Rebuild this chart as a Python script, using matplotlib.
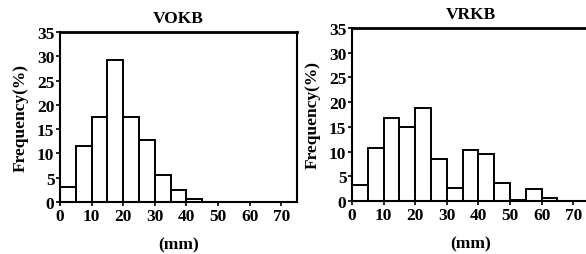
import numpy as np
import matplotlib.pyplot as plt

# bin left edges (mm), width 5
bin_edges = [0, 5, 10, 15, 20, 25, 30, 35, 40, 45, 50, 55, 60, 65, 70]
vokb_freq = [3.0, 11.5, 17.6, 29.3, 17.5, 12.8, 5.5, 2.5, 0.7, 0, 0, 0, 0, 0, 0]
vrkb_freq = [3.2, 10.7, 16.8, 15.0, 18.8, 8.5, 2.6, 10.4, 9.6, 3.7, 0.3, 2.4, 0.6, 0, 0]
titles = ['VOKB', 'VRKB']
x_ticks = [0, 10, 20, 30, 40, 50, 60, 70]
y_ticks = [0, 5, 10, 15, 20, 25, 30, 35]

plt.rcParams['font.family'] = ['Liberation Serif', 'DejaVu Serif']
plt.rcParams['font.weight'] = 'bold'

fig = plt.figure(figsize=(5.86, 2.55), dpi=100)
fig.patch.set_facecolor('white')

positions = [
    [60/586, 52/255, 237/586, 170/255],
    [352/586, 53/255, 237/586, 173/255],
]

fs = 12.5
for pos, freq, title in zip(positions, [vokb_freq, vrkb_freq], titles):
    ax = fig.add_axes(pos)
    ax.bar(bin_edges, freq, width=5, align='edge', color='white',
           edgecolor='black', linewidth=1.4)
    ax.set_xlim(0, 75)
    ax.set_ylim(0, 35)
    ax.set_xticks(x_ticks)
    ax.set_yticks(y_ticks)
    ax.tick_params(direction='out', length=3, width=1.2, labelsize=fs, pad=1)
    for lbl in ax.get_xticklabels() + ax.get_yticklabels():
        lbl.set_fontweight('bold')
    for sp in ax.spines.values():
        sp.set_linewidth(1.5)
    ax.spines['top'].set_linewidth(2)
    ax.set_title(title, fontsize=fs, fontweight='bold', pad=7)
    ax.set_xlabel('(mm)', fontsize=fs, fontweight='bold', labelpad=9)
    ax.set_ylabel('Frequency(%)', fontsize=fs, fontweight='bold', labelpad=6)

plt.savefig('out.png', dpi=100)
plt.close()
